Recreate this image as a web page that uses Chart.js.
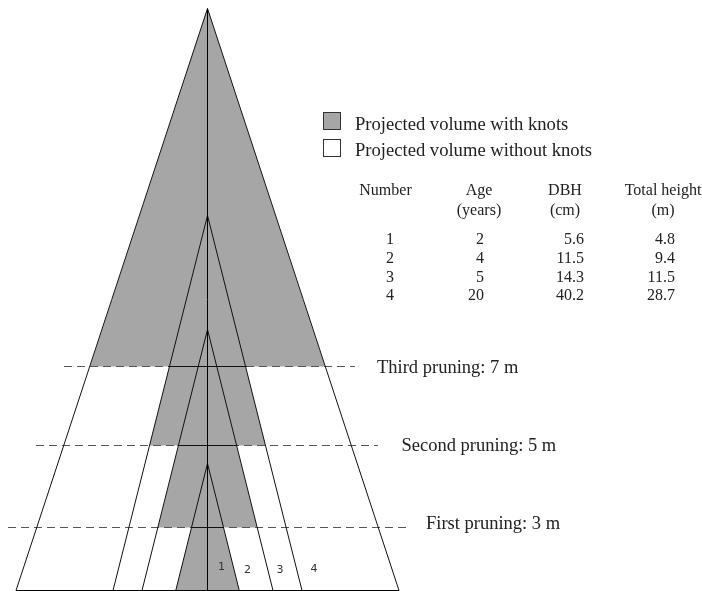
<!DOCTYPE html>
<html lang="en">
<head>
    <meta charset="UTF-8">
    <title>Projected volume with and without knots</title>
    <style>
        html, body { margin: 0; padding: 0; background: #fff; }
        canvas { display: block; }
    </style>
</head>
<body>
    <canvas id="treeChart" width="702" height="591"></canvas>
    <script src="https://cdn.jsdelivr.net/npm/chart.js"></script>
    <script>
        // Trees as drawn (picture units, the drawing is not to scale)
        const treeTops = [127, 261, 375, 582];
        const treeBases = [31.75, 65.5, 94.5, 191.5];

        // Knotty part of each tree: floor height and half width at the floor
        const knotFloors = [0, 63, 145, 224];
        const knotHalfWidths = [31.75, 49.5, 58, 117.5];

        // Pruning lines: height, half extents of the dashes and of the solid chord
        const pruningHeights = [63, 145, 224];
        const pruningLeft = [-199.5, -171.5, -143.5];
        const pruningRight = [202.5, 170.5, 147.5];
        const pruningChords = [15.5, 30, 39.5];
        const pruningLabels = ['First pruning: 3 m', 'Second pruning: 5 m', 'Third pruning: 7 m'];

        // Table
        const tableHeads = [['Number'], ['Age', '(years)'], ['DBH', '(cm)'], ['Total height', '(m)']];
        const numbers = ['1', '2', '3', '4'];
        const ages = ['2', '4', '5', '20'];
        const dbh = ['5.6', '11.5', '14.3', '40.2'];
        const totalHeights = ['4.8', '9.4', '11.5', '28.7'];

        const legendLabels = ['Projected volume with knots', 'Projected volume without knots'];

        const GREY = '#a6a6a6';
        const datasets = [];

        // grey areas go first (highest order = drawn at the back)
        knotFloors.forEach(function (floor, i) {
            datasets.push({
                data: [{ x: -knotHalfWidths[i], y: floor }, { x: 0, y: treeTops[i] }, { x: knotHalfWidths[i], y: floor }],
                backgroundColor: GREY,
                borderWidth: 0,
                fill: { target: { value: floor } },
                order: 10
            });
        });

        // dashed pruning lines
        pruningHeights.forEach(function (h, i) {
            datasets.push({
                data: [{ x: pruningLeft[i], y: h }, { x: pruningRight[i], y: h }],
                borderColor: '#555',
                borderWidth: 1.2,
                borderDash: [8, 5],
                order: 5
            });
            datasets.push({
                data: [{ x: -pruningChords[i], y: h }, { x: pruningChords[i], y: h }],
                borderColor: '#111',
                borderWidth: 1,
                order: 2
            });
        });

        // tree outlines
        treeTops.forEach(function (top, i) {
            datasets.push({
                data: [{ x: -treeBases[i], y: 0 }, { x: 0, y: top }, { x: treeBases[i], y: 0 }],
                borderColor: '#111',
                borderWidth: 1,
                order: 1
            });
        });

        // stem and ground
        datasets.push({ data: [{ x: 0, y: 0 }, { x: 0, y: treeTops[3] }], borderColor: '#000', borderWidth: 1, order: 0 });
        datasets.push({ data: [{ x: -treeBases[3], y: 0 }, { x: treeBases[3], y: 0 }], borderColor: '#000', borderWidth: 1, order: 0 });

        // Legend, table and labels are written on the canvas
        const textPlugin = {
            id: 'textPlugin',
            afterDraw: function (chart) {
                const ctx = chart.ctx;
                ctx.save();
                ctx.textBaseline = 'alphabetic';

                // legend
                ctx.strokeStyle = '#333';
                ctx.lineWidth = 1;
                ctx.fillStyle = GREY;
                ctx.fillRect(323.5, 112.5, 17, 17);
                ctx.strokeRect(323.5, 112.5, 17, 17);
                ctx.strokeRect(323.5, 139.5, 17, 17);
                ctx.fillStyle = '#222';
                ctx.font = '18.6px "Liberation Serif"';
                ctx.textAlign = 'left';
                ctx.fillText(legendLabels[0], 355, 130);
                ctx.fillText(legendLabels[1], 355, 156);

                // pruning labels
                ctx.font = '18.5px "Liberation Serif"';
                ctx.fillText(pruningLabels[0], 426, 529);
                ctx.fillText(pruningLabels[1], 401.5, 451);
                ctx.fillText(pruningLabels[2], 377, 373);

                // table heads
                ctx.font = '16px "Liberation Serif"';
                ctx.textAlign = 'center';
                const headX = [385.5, 479, 565, 663];
                tableHeads.forEach(function (lines, c) {
                    lines.forEach(function (line, l) {
                        ctx.fillText(line, headX[c], 195 + l * 20);
                    });
                });

                // table rows
                const rowY = [244, 263, 282, 300];
                numbers.forEach(function (n, r) {
                    ctx.textAlign = 'center';
                    ctx.fillText(n, 390, rowY[r]);
                    ctx.textAlign = 'right';
                    ctx.fillText(ages[r], 484, rowY[r]);
                    ctx.fillText(dbh[r], 584, rowY[r]);
                    ctx.fillText(totalHeights[r], 675, rowY[r]);
                });

                // tree numbers
                ctx.font = '11px "DejaVu Sans"';
                ctx.fillStyle = '#333';
                ctx.textAlign = 'center';
                const numX = [221.5, 247.5, 280, 314];
                const numY = [570, 573, 573, 572];
                numbers.forEach(function (n, i) {
                    ctx.fillText(n, numX[i], numY[i]);
                });
                ctx.restore();
            }
        };

        new Chart(document.getElementById('treeChart').getContext('2d'), {
            type: 'scatter',
            data: { datasets: datasets },
            options: {
                responsive: false,
                animation: false,
                showLine: true,
                clip: false,
                elements: { point: { radius: 0 }, line: { tension: 0 } },
                layout: { padding: 0 },
                plugins: { legend: { display: false }, tooltip: { enabled: false } },
                scales: {
                    x: { type: 'linear', display: false, min: -207.5, max: 494.5 },
                    y: { type: 'linear', display: false, min: -0.5, max: 590.5 }
                }
            },
            plugins: [textPlugin]
        });
    </script>
</body>
</html>
